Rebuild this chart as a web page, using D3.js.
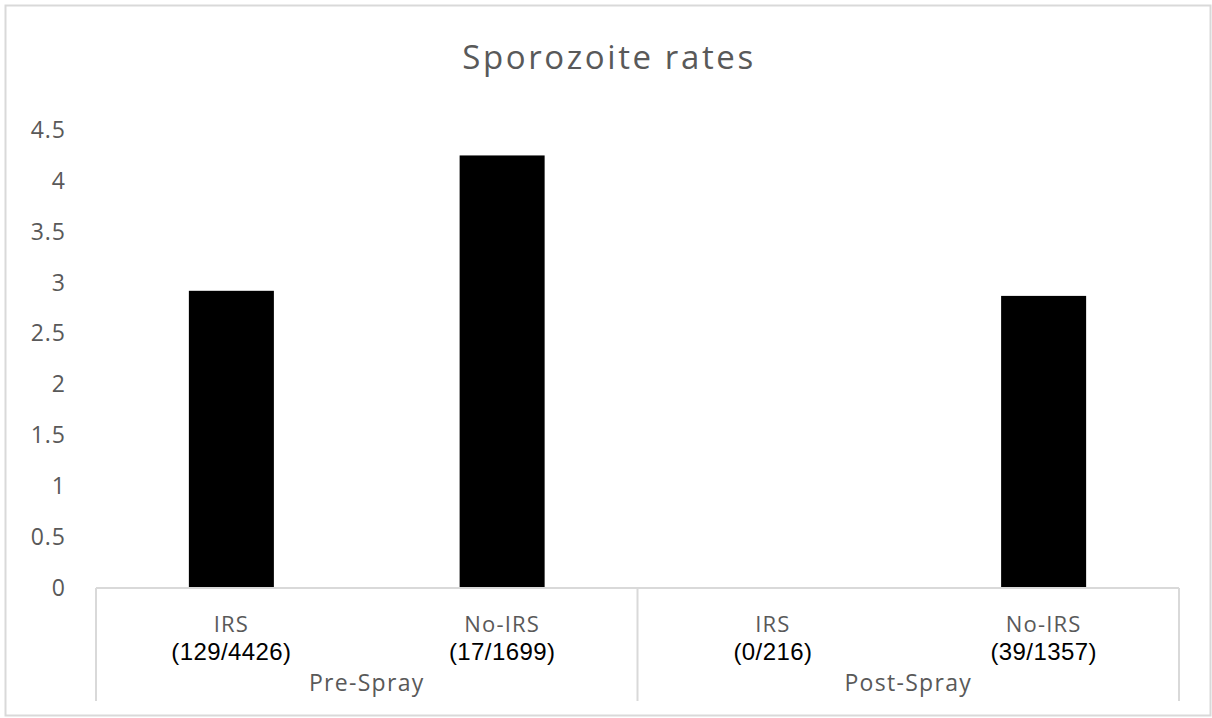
<!DOCTYPE html>
<html>
<head>
<meta charset="utf-8">
<script src="https://cdn.jsdelivr.net/npm/d3@7"></script>
<style>
  body { margin: 0; background: #fff; }
  svg { display: block; }
</style>
</head>
<body>
<div id="content"></div>
<script>
// data
let groups = ['Pre-Spray', 'Post-Spray'];
let categories = ['IRS', 'No-IRS', 'IRS', 'No-IRS'];
let counts = ['(129/4426)', '(17/1699)', '(0/216)', '(39/1357)'];
let values = [2.92, 4.25, 0, 2.87];
let yTicks = [0, 0.5, 1, 1.5, 2, 2.5, 3, 3.5, 4, 4.5];

let width = 1212, height = 718;
let margin = {top: 130, left: 96, right: 33, bottom: 130};
let font = '"Open Sans", sans-serif';

let svg = d3.select('#content').append('svg')
	.attr('width', width)
	.attr('height', height);

// chart border
svg.append('rect')
	.attr('x', 5.5).attr('y', 5.5)
	.attr('width', width - 7).attr('height', height - 8)
	.attr('fill', '#fff')
	.attr('stroke', '#d9d9d9')
	.attr('stroke-width', 2);

let x = d3.scaleBand()
	.domain(d3.range(categories.length))
	.range([margin.left, width - margin.right])
	.paddingInner(0.686)
	.paddingOuter(0.343);

let y = d3.scaleLinear()
	.domain([0, 4.5])
	.range([588, 130]);

// title
svg.append('text')
	.attr('x', 609).attr('y', 69)
	.attr('text-anchor', 'middle')
	.attr('font-family', font)
	.attr('font-size', 33)
	.attr('letter-spacing', 2.6)
	.attr('fill', '#595959')
	.text('Sporozoite rates');

// y axis labels
let yAxis = svg.append('g')
	.attr('transform', 'translate(66,0)')
	.call(d3.axisLeft(y).tickValues(yTicks).tickSize(0).tickPadding(0).tickFormat(d3.format('')));
yAxis.select('.domain').remove();
yAxis.selectAll('text')
	.attr('font-family', font)
	.attr('font-size', 23)
	.attr('letter-spacing', 1)
	.attr('fill', '#595959');

// bars
svg.selectAll('.bar')
	.data(values)
	.join('rect')
	.attr('class', 'bar')
	.attr('x', (d, i) => x(i))
	.attr('width', x.bandwidth())
	.attr('y', d => y(d))
	.attr('height', d => y(0) - y(d))
	.attr('fill', '#000');

// category axis box
let x0 = x.range()[0], x1 = x.range()[1];
let step = x.step();
let axisG = svg.append('g')
	.attr('stroke', '#d9d9d9')
	.attr('stroke-width', 2);
axisG.append('line')
	.attr('x1', x0).attr('x2', x1)
	.attr('y1', y(0)).attr('y2', y(0));
let dividers = d3.range(groups.length + 1).map(i => x0 + i * step * 2);
axisG.selectAll('.div')
	.data(dividers)
	.join('line')
	.attr('x1', d => d).attr('x2', d => d)
	.attr('y1', y(0)).attr('y2', 701);

let center = i => x(i) + x.bandwidth() / 2;

svg.selectAll('.cat')
	.data(categories)
	.join('text')
	.attr('x', (d, i) => center(i))
	.attr('y', 632)
	.attr('text-anchor', 'middle')
	.attr('font-family', font)
	.attr('font-size', 22)
	.attr('letter-spacing', 1.2)
	.attr('fill', '#595959')
	.text(d => d);

svg.selectAll('.cnt')
	.data(counts)
	.join('text')
	.attr('x', (d, i) => center(i))
	.attr('y', 660)
	.attr('text-anchor', 'middle')
	.attr('font-family', '"Liberation Sans", Arial, sans-serif')
	.attr('font-size', 24)
	.attr('letter-spacing', 0.4)
	.attr('fill', '#000')
	.text(d => d);

svg.selectAll('.grp')
	.data(groups)
	.join('text')
	.attr('x', (d, i) => x0 + step * (2 * i + 1))
	.attr('y', 691)
	.attr('text-anchor', 'middle')
	.attr('font-family', font)
	.attr('font-size', 23)
	.attr('letter-spacing', 1.3)
	.attr('fill', '#595959')
	.text(d => d);
</script>
</body>
</html>
